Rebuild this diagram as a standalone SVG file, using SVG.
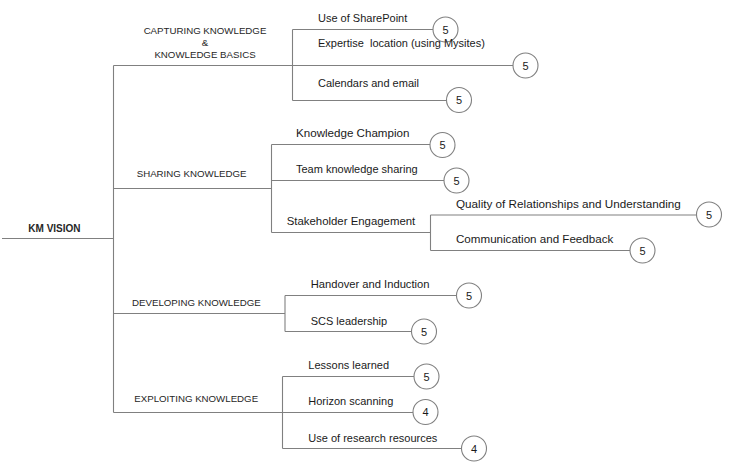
<svg xmlns="http://www.w3.org/2000/svg" width="729" height="468" viewBox="0 0 729 468">
<style>
  .ln { fill: none; stroke: #808080; stroke-width: 1.1; }
  .c { fill: #ffffff; stroke: #808080; stroke-width: 1.1; }
  .t { font-family: "Liberation Sans", Arial, sans-serif; font-size: 11px; fill: #1a1a1a; white-space: pre; }
  .tl { font-size: 11.6px; }
  .cap { font-family: "Liberation Sans", Arial, sans-serif; font-size: 9.7px; fill: #262626; }
  .n { font-family: "Liberation Sans", Arial, sans-serif; font-size: 11px; fill: #1a1a1a; text-anchor: middle; }
  .root { font-family: "Liberation Sans", Arial, sans-serif; font-size: 10px; font-weight: bold; fill: #262626; }
</style>
<rect width="729" height="468" fill="#ffffff"/>
<g id="connectors">
  <path class="ln" d="M2 238.5 H113.5"/>
  <path class="ln" d="M113.5 65.5 V412.5"/>
  <path class="ln" d="M113.5 65.5 H513"/>
  <path class="ln" d="M292.5 29.5 V100.5"/>
  <path class="ln" d="M292.5 29.5 H433"/>
  <path class="ln" d="M292.5 100.5 H446.5"/>
  <path class="ln" d="M113.5 188.5 H271.5"/>
  <path class="ln" d="M271.5 144.5 V232.5"/>
  <path class="ln" d="M271.5 144.5 H430"/>
  <path class="ln" d="M271.5 180.5 H444"/>
  <path class="ln" d="M271.5 232.5 H430.5"/>
  <path class="ln" d="M430.5 215 V250.5"/>
  <path class="ln" d="M430.5 215 H696.5"/>
  <path class="ln" d="M430.5 250.5 H630"/>
  <path class="ln" d="M113.5 313.5 H285"/>
  <path class="ln" d="M285 295.5 V331.5"/>
  <path class="ln" d="M285 295.5 H456.5"/>
  <path class="ln" d="M285 331.5 H411.5"/>
  <path class="ln" d="M113.5 412.5 H413"/>
  <path class="ln" d="M282.5 376.5 V448.5"/>
  <path class="ln" d="M282.5 376.5 H414"/>
  <path class="ln" d="M282.5 448.5 H461.5"/>
</g>
<g id="km-vision"><text class="root" x="28.3" y="231.7">KM VISION</text></g>
<g id="capturing">
  <text class="cap" x="205" y="34" text-anchor="middle">CAPTURING KNOWLEDGE</text>
  <text class="cap" x="205" y="46" text-anchor="middle">&amp;</text>
  <text class="cap" x="205" y="57.7" text-anchor="middle">KNOWLEDGE BASICS</text>
</g>
<g id="sharing"><text class="cap" x="136.7" y="177.3">SHARING KNOWLEDGE</text></g>
<g id="developing"><text class="cap" x="132" y="305.7">DEVELOPING KNOWLEDGE</text></g>
<g id="exploiting"><text class="cap" x="134.3" y="401.7">EXPLOITING KNOWLEDGE</text></g>

<g id="sharepoint"><text class="t" x="318" y="21.7">Use of SharePoint</text><circle class="c" cx="445.5" cy="29.5" r="12.5"/><text class="n" x="445.5" y="33.5">5</text></g>
<g id="expertise"><text class="t" x="318" y="46.7">Expertise  location (using Mysites)</text><circle class="c" cx="525.5" cy="65.5" r="12.5"/><text class="n" x="525.5" y="69.5">5</text></g>
<g id="calendars"><text class="t" x="318" y="86.7">Calendars and email</text><circle class="c" cx="459" cy="100" r="12.5"/><text class="n" x="459" y="104">5</text></g>

<g id="champion"><text class="t tl" x="296" y="137.3">Knowledge Champion</text><circle class="c" cx="442.5" cy="145" r="12.5"/><text class="n" x="442.5" y="149">5</text></g>
<g id="team"><text class="t" x="296" y="173.3">Team knowledge sharing</text><circle class="c" cx="456.5" cy="180.5" r="12.5"/><text class="n" x="456.5" y="184.5">5</text></g>
<g id="stakeholder"><text class="t" x="286.7" y="225" style="font-size:11.4px">Stakeholder Engagement</text></g>
<g id="quality"><text class="t tl" x="456" y="208.3" style="font-size:11.7px">Quality of Relationships and Understanding</text><circle class="c" cx="709" cy="214.5" r="12.5"/><text class="n" x="709" y="218.5">5</text></g>
<g id="communication"><text class="t tl" x="456" y="243.3">Communication and Feedback</text><circle class="c" cx="642.5" cy="250.5" r="12.5"/><text class="n" x="642.5" y="254.5">5</text></g>

<g id="handover"><text class="t" x="310.7" y="288.3" style="font-size:11.2px">Handover and Induction</text><circle class="c" cx="469" cy="295.5" r="12.5"/><text class="n" x="469" y="299.5">5</text></g>
<g id="scs"><text class="t" x="310.7" y="325">SCS leadership</text><circle class="c" cx="424" cy="331.5" r="12.5"/><text class="n" x="424" y="335.5">5</text></g>

<g id="lessons"><text class="t" x="308.3" y="369.3">Lessons learned</text><circle class="c" cx="426.5" cy="376.5" r="12.5"/><text class="n" x="426.5" y="380.5">5</text></g>
<g id="horizon"><text class="t" x="308.3" y="405">Horizon scanning</text><circle class="c" cx="425.5" cy="412" r="12.5"/><text class="n" x="425.5" y="416">4</text></g>
<g id="research"><text class="t" x="308.3" y="441.7">Use of research resources</text><circle class="c" cx="474" cy="448.5" r="12.5"/><text class="n" x="474" y="452.5">4</text></g>
</svg>
